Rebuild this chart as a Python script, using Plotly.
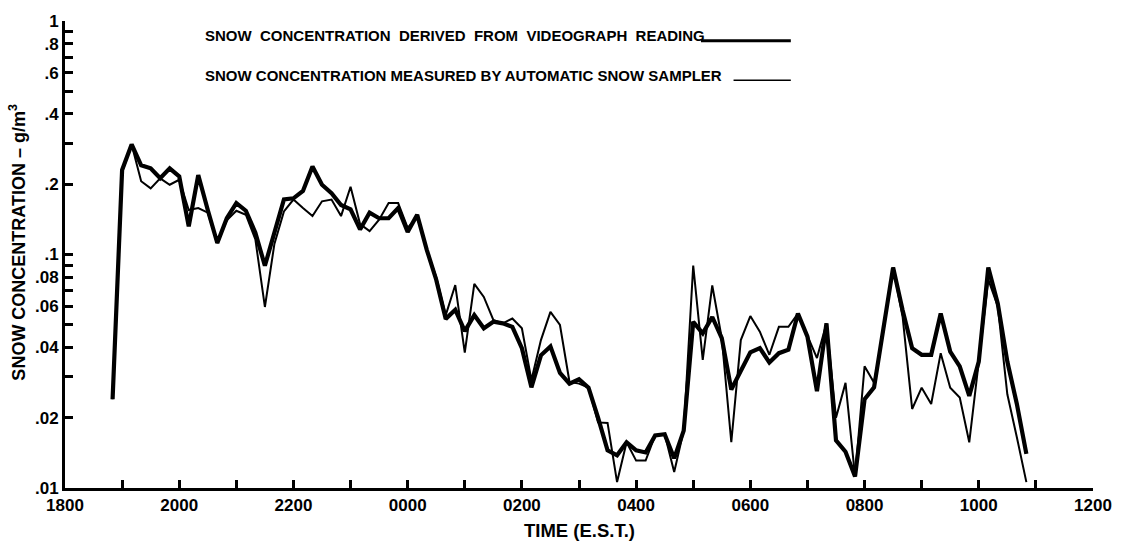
import plotly.graph_objects as go

# Sample times (E.S.T., 10-minute readings)
times = [
    "1850", "1900", "1910", "1920", "1930", "1940", "1950", "2000", "2010", "2020",
    "2030", "2040", "2050", "2100", "2110", "2120", "2130", "2140", "2150", "2200",
    "2210", "2220", "2230", "2240", "2250", "2300", "2310", "2320", "2330", "2340",
    "2350", "0000", "0010", "0020", "0030", "0040", "0050", "0100", "0110", "0120",
    "0130", "0140", "0150", "0200", "0210", "0220", "0230", "0240", "0250", "0300",
    "0310", "0320", "0330", "0340", "0350", "0400", "0410", "0420", "0430", "0440",
    "0450", "0500", "0510", "0520", "0530", "0540", "0550", "0600", "0610", "0620",
    "0630", "0640", "0650", "0700", "0710", "0720", "0730", "0740", "0750", "0800",
    "0810", "0820", "0830", "0840", "0850", "0900", "0910", "0920", "0930", "0940",
    "0950", "1000", "1010", "1020", "1030", "1040", "1050",
]

# Snow concentration derived from videograph reading (g/m^3) - thick line
videograph = [
    0.024, 0.23, 0.296, 0.241, 0.234, 0.212, 0.234, 0.216, 0.132, 0.219,
    0.155, 0.112, 0.143, 0.166, 0.154, 0.124, 0.0895, 0.124, 0.172, 0.174,
    0.187, 0.238, 0.199, 0.183, 0.163, 0.156, 0.128, 0.151, 0.143, 0.143,
    0.158, 0.125, 0.148, 0.105, 0.078, 0.053, 0.058, 0.047, 0.055, 0.0483,
    0.0515, 0.0507, 0.049, 0.0397, 0.027, 0.037, 0.0404, 0.0311, 0.028, 0.0292,
    0.0269, 0.020, 0.0145, 0.0138, 0.0157, 0.0145, 0.0142, 0.0168, 0.017, 0.0134,
    0.0176, 0.0515, 0.046, 0.054, 0.0438, 0.0264, 0.0316, 0.0381, 0.0397, 0.0345,
    0.0378, 0.0391, 0.0559, 0.0445, 0.026, 0.0507, 0.016, 0.0143, 0.0112, 0.024,
    0.027, 0.0475, 0.088, 0.0577, 0.0397, 0.0372, 0.0372, 0.0559, 0.0384, 0.0332,
    0.0248, 0.0348, 0.088, 0.0615, 0.0348, 0.0229, 0.014,
]

# Snow concentration measured by automatic snow sampler (g/m^3) - thin line
sampler = [
    0.024, 0.225, 0.296, 0.206, 0.192, 0.212, 0.199, 0.209, 0.155, 0.158,
    0.151, 0.112, 0.14, 0.154, 0.148, 0.116, 0.0596, 0.111, 0.153, 0.172,
    0.158, 0.146, 0.169, 0.172, 0.146, 0.195, 0.135, 0.126, 0.141, 0.166,
    0.166, 0.13, 0.145, 0.105, 0.08, 0.055, 0.074, 0.038, 0.0748, 0.0658,
    0.0525, 0.0507, 0.0532, 0.0483, 0.029, 0.043, 0.0568, 0.0499, 0.0285, 0.028,
    0.0269, 0.0191, 0.019, 0.0106, 0.0157, 0.0131, 0.0131, 0.0168, 0.017, 0.0117,
    0.0176, 0.0896, 0.0354, 0.0737, 0.0438, 0.0157, 0.043, 0.0545, 0.0467, 0.0372,
    0.049, 0.049, 0.0559, 0.0445, 0.036, 0.0507, 0.020, 0.0282, 0.0112, 0.0332,
    0.0282, 0.0475, 0.088, 0.054, 0.0218, 0.0269, 0.0229, 0.0378, 0.0269, 0.0244,
    0.0157, 0.0348, 0.078, 0.06, 0.0252, 0.0165, 0.0106,
]

# Axis ticks
x_tick_hours = list(range(0, 19))
x_tick_labels = ["1800", "", "2000", "", "2200", "", "0000", "", "0200", "", "0400", "",
                 "0600", "", "0800", "", "1000", "", "1200"]
y_tick_vals = [0.01, 0.02, 0.03, 0.04, 0.05, 0.06, 0.07, 0.08, 0.09, 0.1,
               0.2, 0.3, 0.4, 0.5, 0.6, 0.7, 0.8, 0.9, 1.0]
y_tick_labels = [".01", ".02", "", ".04", "", ".06", "", ".08", "", ".1",
                 ".2", "", ".4", "", ".6", "", ".8", "", "1"]


def hours_after_1800(t):
    h = int(t[:2]) + int(t[2:]) / 60.0
    if h < 18:
        h += 24
    return h - 18


x = [hours_after_1800(t) for t in times]

FONT = "Liberation Sans, Arial, Helvetica, sans-serif"

fig = go.Figure()
fig.add_trace(go.Scatter(x=x, y=sampler, mode="lines",
                         line=dict(color="black", width=2),
                         name="SNOW CONCENTRATION MEASURED BY AUTOMATIC SNOW SAMPLER"))
fig.add_trace(go.Scatter(x=x, y=videograph, mode="lines",
                         line=dict(color="black", width=4.2),
                         name="SNOW CONCENTRATION DERIVED FROM VIDEOGRAPH READING"))

fig.update_layout(
    width=1124, height=544,
    margin=dict(l=65, r=18, t=16, b=56),
    paper_bgcolor="white", plot_bgcolor="white",
    showlegend=False,
    font=dict(family=FONT, color="black", size=14),
    xaxis=dict(
        range=[0, 18], tickvals=x_tick_hours, ticktext=x_tick_labels,
        showgrid=False, zeroline=False, showline=True, linecolor="black", linewidth=3,
        ticks="inside", ticklen=8, tickwidth=3, tickcolor="black",
        ticklabeloverflow="allow",
        tickfont=dict(family=FONT, size=17, color="black", weight="bold"),
    ),
    yaxis=dict(
        type="log", range=[-2, 0], tickvals=y_tick_vals, ticktext=y_tick_labels,
        showgrid=False, zeroline=False, showline=True, linecolor="black", linewidth=3,
        ticks="inside", ticklen=8, tickwidth=3, tickcolor="black",
        tickfont=dict(family=FONT, size=17, color="black", weight="bold"),
    ),
)

# Axis titles
fig.add_annotation(text="TIME (E.S.T.)", xref="paper", yref="paper", x=0.5, y=0,
                   yshift=-42, showarrow=False, yanchor="middle",
                   font=dict(family=FONT, size=18.5, color="black", weight="bold"))
fig.add_annotation(text="SNOW CONCENTRATION – g/m<sup>3</sup>", xref="paper", yref="paper",
                   x=0, y=1 - (240 - 16) / 472, xshift=-47, textangle=-90, showarrow=False,
                   xanchor="center", yanchor="middle",
                   font=dict(family=FONT, size=18, color="black", weight="bold"))

# Legend drawn as text with line samples
fig.add_annotation(text="SNOW  CONCENTRATION  DERIVED  FROM  VIDEOGRAPH  READING",
                   xref="paper", yref="paper", x=(205 - 65) / 1041, y=1, yshift=-14,
                   xanchor="left", yanchor="middle", showarrow=False,
                   font=dict(family=FONT, size=15, color="black", weight="bold"))
fig.add_annotation(text="SNOW CONCENTRATION MEASURED BY AUTOMATIC SNOW SAMPLER",
                   xref="paper", yref="paper", x=(205 - 65) / 1041, y=1, yshift=-54,
                   xanchor="left", yanchor="middle", showarrow=False,
                   font=dict(family=FONT, size=15, color="black", weight="bold"))
fig.add_shape(type="line", xref="paper", yref="paper",
              x0=(709 - 65) / 1041, x1=(800 - 65) / 1041,
              y0=1 - 20 / 472, y1=1 - 20 / 472, line=dict(color="black", width=3))
fig.add_shape(type="line", xref="paper", yref="paper",
              x0=(742 - 65) / 1041, x1=(800 - 65) / 1041,
              y0=1 - 60 / 472, y1=1 - 60 / 472, line=dict(color="black", width=1.5))

fig.write_html("out.html")
